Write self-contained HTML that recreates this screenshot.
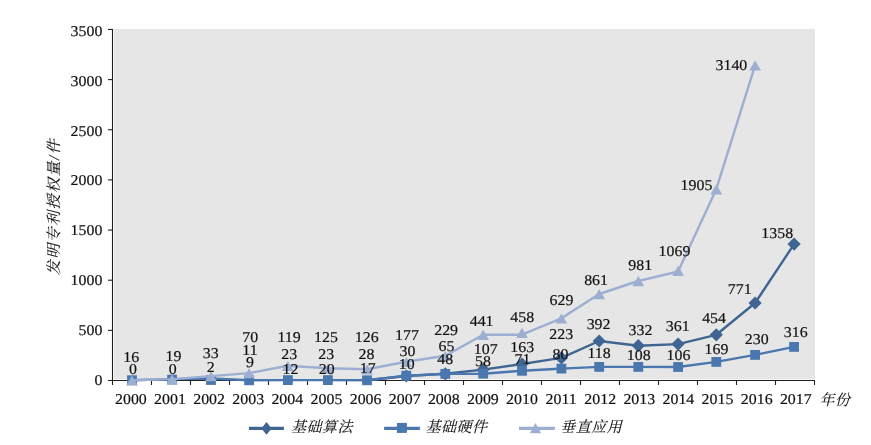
<!DOCTYPE html>
<html><head><meta charset="utf-8"><title>chart</title>
<style>
html,body{margin:0;padding:0;background:#fff;}
body{width:871px;height:445px;overflow:hidden;}
svg{display:block;}
text{font-family:"Liberation Serif",serif;font-size:15px;fill:#111011;text-rendering:geometricPrecision;stroke:#111011;stroke-width:0.18px;}
text.cjk{font-family:"Liberation Serif","Noto Serif CJK SC",serif;font-style:italic;stroke-width:0.1px;}
</style></head><body>
<svg width="871" height="445" viewBox="0 0 871 445">
<rect x="0" y="0" width="871" height="445" fill="#fff"/>
<g opacity="0.999">
<rect x="114" y="29" width="701.0" height="350.3" fill="#e6e6e6"/>
<g stroke="#231f20" stroke-width="1.1" fill="none">
<path d="M112.5 28.9 V385.0"/>
<path d="M108.0 380.5 H815.0"/>
<path d="M108.0 330.35 H112.5"/>
<path d="M108.0 280.20 H112.5"/>
<path d="M108.0 230.05 H112.5"/>
<path d="M108.0 179.90 H112.5"/>
<path d="M108.0 129.75 H112.5"/>
<path d="M108.0 79.60 H112.5"/>
<path d="M108.0 29.45 H112.5"/>
<path d="M151.5 380.5 V385.0"/>
<path d="M190.5 380.5 V385.0"/>
<path d="M229.5 380.5 V385.0"/>
<path d="M268.5 380.5 V385.0"/>
<path d="M307.5 380.5 V385.0"/>
<path d="M346.5 380.5 V385.0"/>
<path d="M385.5 380.5 V385.0"/>
<path d="M424.5 380.5 V385.0"/>
<path d="M463.5 380.5 V385.0"/>
<path d="M502.5 380.5 V385.0"/>
<path d="M541.5 380.5 V385.0"/>
<path d="M580.5 380.5 V385.0"/>
<path d="M619.5 380.5 V385.0"/>
<path d="M658.5 380.5 V385.0"/>
<path d="M697.5 380.5 V385.0"/>
<path d="M736.5 380.5 V385.0"/>
<path d="M775.5 380.5 V385.0"/>
<path d="M814.5 380.5 V385.0"/>
</g>
<text transform="translate(102.4 384.6) scale(1.060 1)" text-anchor="end">0</text>
<text transform="translate(102.4 334.8) scale(1.060 1)" text-anchor="end">500</text>
<text transform="translate(102.4 285.0) scale(1.060 1)" text-anchor="end">1000</text>
<text transform="translate(102.4 235.2) scale(1.060 1)" text-anchor="end">1500</text>
<text transform="translate(102.4 185.4) scale(1.060 1)" text-anchor="end">2000</text>
<text transform="translate(102.4 135.6) scale(1.060 1)" text-anchor="end">2500</text>
<text transform="translate(102.4 85.8) scale(1.060 1)" text-anchor="end">3000</text>
<text transform="translate(102.4 36.0) scale(1.060 1)" text-anchor="end">3500</text>
<text transform="translate(130.9 403.6) scale(1.060 1)" text-anchor="middle">2000</text>
<text transform="translate(170.0 403.6) scale(1.060 1)" text-anchor="middle">2001</text>
<text transform="translate(209.1 403.6) scale(1.060 1)" text-anchor="middle">2002</text>
<text transform="translate(248.2 403.6) scale(1.060 1)" text-anchor="middle">2003</text>
<text transform="translate(287.3 403.6) scale(1.060 1)" text-anchor="middle">2004</text>
<text transform="translate(326.5 403.6) scale(1.060 1)" text-anchor="middle">2005</text>
<text transform="translate(365.6 403.6) scale(1.060 1)" text-anchor="middle">2006</text>
<text transform="translate(404.7 403.6) scale(1.060 1)" text-anchor="middle">2007</text>
<text transform="translate(443.8 403.6) scale(1.060 1)" text-anchor="middle">2008</text>
<text transform="translate(482.9 403.6) scale(1.060 1)" text-anchor="middle">2009</text>
<text transform="translate(522.0 403.6) scale(1.060 1)" text-anchor="middle">2010</text>
<text transform="translate(561.1 403.6) scale(1.060 1)" text-anchor="middle">2011</text>
<text transform="translate(600.2 403.6) scale(1.060 1)" text-anchor="middle">2012</text>
<text transform="translate(639.3 403.6) scale(1.060 1)" text-anchor="middle">2013</text>
<text transform="translate(678.4 403.6) scale(1.060 1)" text-anchor="middle">2014</text>
<text transform="translate(717.5 403.6) scale(1.060 1)" text-anchor="middle">2015</text>
<text transform="translate(756.7 403.6) scale(1.060 1)" text-anchor="middle">2016</text>
<text transform="translate(795.8 403.6) scale(1.060 1)" text-anchor="middle">2017</text>
<polyline points="367.0,380.3 406.3,376.0 445.3,373.8 483.2,369.6 522.0,364.0 561.4,357.9 599.2,341.0 638.3,345.7 678.1,344.1 716.3,334.8 755.1,303.0 794.1,244.1" fill="none" stroke="#3f6592" stroke-width="2.4" stroke-linejoin="round"/>
<path d="M406.3 369.4 l6.6 6.6 l-6.6 6.6 l-6.6 -6.6z" fill="#3f6592"/>
<path d="M445.3 367.2 l6.6 6.6 l-6.6 6.6 l-6.6 -6.6z" fill="#3f6592"/>
<path d="M483.2 363.0 l6.6 6.6 l-6.6 6.6 l-6.6 -6.6z" fill="#3f6592"/>
<path d="M522.0 357.4 l6.6 6.6 l-6.6 6.6 l-6.6 -6.6z" fill="#3f6592"/>
<path d="M561.4 351.3 l6.6 6.6 l-6.6 6.6 l-6.6 -6.6z" fill="#3f6592"/>
<path d="M599.2 334.4 l6.6 6.6 l-6.6 6.6 l-6.6 -6.6z" fill="#3f6592"/>
<path d="M638.3 339.1 l6.6 6.6 l-6.6 6.6 l-6.6 -6.6z" fill="#3f6592"/>
<path d="M678.1 337.5 l6.6 6.6 l-6.6 6.6 l-6.6 -6.6z" fill="#3f6592"/>
<path d="M716.3 328.2 l6.6 6.6 l-6.6 6.6 l-6.6 -6.6z" fill="#3f6592"/>
<path d="M755.1 296.4 l6.6 6.6 l-6.6 6.6 l-6.6 -6.6z" fill="#3f6592"/>
<path d="M794.1 237.5 l6.6 6.6 l-6.6 6.6 l-6.6 -6.6z" fill="#3f6592"/>
<polyline points="132.0,380.2 172.1,379.1 211.0,378.5 249.1,380.3 287.9,380.1 327.9,380.1 367.0,380.3 406.3,375.7 445.3,373.9 483.2,373.7 522.0,370.8 561.4,368.6 599.2,366.9 638.3,366.9 678.1,367.0 716.3,361.9 755.1,354.9 794.1,346.9" fill="none" stroke="#4a77ad" stroke-width="2.4" stroke-linejoin="round"/>
<rect x="127.1" y="375.3" width="9.8" height="9.8" fill="#4a77ad"/>
<rect x="167.2" y="374.7" width="9.8" height="9.8" fill="#4a77ad"/>
<rect x="206.1" y="375.1" width="9.8" height="9.8" fill="#4a77ad"/>
<rect x="244.2" y="375.4" width="9.8" height="9.8" fill="#4a77ad"/>
<rect x="283.0" y="375.2" width="9.8" height="9.8" fill="#4a77ad"/>
<rect x="323.0" y="375.2" width="9.8" height="9.8" fill="#4a77ad"/>
<rect x="362.1" y="375.4" width="9.8" height="9.8" fill="#4a77ad"/>
<rect x="401.4" y="370.8" width="9.8" height="9.8" fill="#4a77ad"/>
<rect x="440.4" y="369.0" width="9.8" height="9.8" fill="#4a77ad"/>
<rect x="478.3" y="368.8" width="9.8" height="9.8" fill="#4a77ad"/>
<rect x="517.1" y="365.9" width="9.8" height="9.8" fill="#4a77ad"/>
<rect x="556.5" y="363.7" width="9.8" height="9.8" fill="#4a77ad"/>
<rect x="594.3" y="362.0" width="9.8" height="9.8" fill="#4a77ad"/>
<rect x="633.4" y="362.0" width="9.8" height="9.8" fill="#4a77ad"/>
<rect x="673.2" y="362.1" width="9.8" height="9.8" fill="#4a77ad"/>
<rect x="711.4" y="357.0" width="9.8" height="9.8" fill="#4a77ad"/>
<rect x="750.2" y="350.0" width="9.8" height="9.8" fill="#4a77ad"/>
<rect x="789.2" y="342.0" width="9.8" height="9.8" fill="#4a77ad"/>
<polyline points="132.0,380.3 172.1,379.1 211.0,376.1 249.1,373.1 287.9,365.8 327.9,368.3 367.0,369.3 406.3,361.8 445.3,355.8 483.2,334.7 522.0,334.7 561.4,318.3 599.2,294.0 638.3,281.0 678.1,271.5 716.3,189.2 755.1,65.4" fill="none" stroke="#9cafd1" stroke-width="2.4" stroke-linejoin="round"/>
<path d="M132.0 375.4 l5.9 10.1 h-11.8z" fill="#9cafd1"/>
<path d="M172.1 374.2 l5.9 10.1 h-11.8z" fill="#9cafd1"/>
<path d="M211.0 371.2 l5.9 10.1 h-11.8z" fill="#9cafd1"/>
<path d="M249.1 368.2 l5.9 10.1 h-11.8z" fill="#9cafd1"/>
<path d="M287.9 360.9 l5.9 10.1 h-11.8z" fill="#9cafd1"/>
<path d="M327.9 363.4 l5.9 10.1 h-11.8z" fill="#9cafd1"/>
<path d="M367.0 364.4 l5.9 10.1 h-11.8z" fill="#9cafd1"/>
<path d="M406.3 356.9 l5.9 10.1 h-11.8z" fill="#9cafd1"/>
<path d="M445.3 350.9 l5.9 10.1 h-11.8z" fill="#9cafd1"/>
<path d="M483.2 329.8 l5.9 10.1 h-11.8z" fill="#9cafd1"/>
<path d="M522.0 327.8 l5.9 10.1 h-11.8z" fill="#9cafd1"/>
<path d="M561.4 313.4 l5.9 10.1 h-11.8z" fill="#9cafd1"/>
<path d="M599.2 289.1 l5.9 10.1 h-11.8z" fill="#9cafd1"/>
<path d="M638.3 276.1 l5.9 10.1 h-11.8z" fill="#9cafd1"/>
<path d="M678.1 265.8 l5.9 10.1 h-11.8z" fill="#9cafd1"/>
<path d="M716.3 184.3 l5.9 10.1 h-11.8z" fill="#9cafd1"/>
<path d="M755.1 60.5 l5.9 10.1 h-11.8z" fill="#9cafd1"/>
<text transform="translate(131.2 362.3) scale(1.060 1)" text-anchor="middle">16</text>
<text transform="translate(132.9 374.3) scale(1.060 1)" text-anchor="middle">0</text>
<text transform="translate(173.5 360.5) scale(1.060 1)" text-anchor="middle">19</text>
<text transform="translate(172.8 374.3) scale(1.060 1)" text-anchor="middle">0</text>
<text transform="translate(210.7 358.1) scale(1.060 1)" text-anchor="middle">33</text>
<text transform="translate(210.7 372.2) scale(1.060 1)" text-anchor="middle">2</text>
<text transform="translate(250.2 342.2) scale(1.060 1)" text-anchor="middle">70</text>
<text transform="translate(250.0 354.6) scale(1.060 1)" text-anchor="middle">11</text>
<text transform="translate(249.9 367.4) scale(1.060 1)" text-anchor="middle">9</text>
<text transform="translate(289.1 341.8) scale(1.060 1)" text-anchor="middle">119</text>
<text transform="translate(289.2 358.8) scale(1.060 1)" text-anchor="middle">23</text>
<text transform="translate(290.5 373.9) scale(1.060 1)" text-anchor="middle">12</text>
<text transform="translate(326.0 341.8) scale(1.060 1)" text-anchor="middle">125</text>
<text transform="translate(326.2 358.8) scale(1.060 1)" text-anchor="middle">23</text>
<text transform="translate(326.8 373.9) scale(1.060 1)" text-anchor="middle">20</text>
<text transform="translate(366.7 341.5) scale(1.060 1)" text-anchor="middle">126</text>
<text transform="translate(366.4 358.8) scale(1.060 1)" text-anchor="middle">28</text>
<text transform="translate(367.8 373.2) scale(1.060 1)" text-anchor="middle">17</text>
<text transform="translate(407.0 339.5) scale(1.060 1)" text-anchor="middle">177</text>
<text transform="translate(407.5 356.4) scale(1.060 1)" text-anchor="middle">30</text>
<text transform="translate(406.7 369.4) scale(1.060 1)" text-anchor="middle">10</text>
<text transform="translate(446.1 334.6) scale(1.060 1)" text-anchor="middle">229</text>
<text transform="translate(446.5 351.2) scale(1.060 1)" text-anchor="middle">65</text>
<text transform="translate(445.2 364.0) scale(1.060 1)" text-anchor="middle">48</text>
<text transform="translate(481.6 326.2) scale(1.060 1)" text-anchor="middle">441</text>
<text transform="translate(485.7 354.1) scale(1.060 1)" text-anchor="middle">107</text>
<text transform="translate(483.0 366.3) scale(1.060 1)" text-anchor="middle">58</text>
<text transform="translate(522.2 322.0) scale(1.060 1)" text-anchor="middle">458</text>
<text transform="translate(522.2 351.6) scale(1.060 1)" text-anchor="middle">163</text>
<text transform="translate(522.5 364.0) scale(1.060 1)" text-anchor="middle">71</text>
<text transform="translate(561.4 304.8) scale(1.060 1)" text-anchor="middle">629</text>
<text transform="translate(561.2 339.2) scale(1.060 1)" text-anchor="middle">223</text>
<text transform="translate(560.5 359.2) scale(1.060 1)" text-anchor="middle">80</text>
<text transform="translate(596.1 284.7) scale(1.060 1)" text-anchor="middle">861</text>
<text transform="translate(598.6 328.7) scale(1.060 1)" text-anchor="middle">392</text>
<text transform="translate(599.1 358.2) scale(1.060 1)" text-anchor="middle">118</text>
<text transform="translate(640.2 270.3) scale(1.060 1)" text-anchor="middle">981</text>
<text transform="translate(640.4 335.0) scale(1.060 1)" text-anchor="middle">332</text>
<text transform="translate(638.7 359.6) scale(1.060 1)" text-anchor="middle">108</text>
<text transform="translate(674.5 256.4) scale(1.060 1)" text-anchor="middle">1069</text>
<text transform="translate(677.7 331.4) scale(1.060 1)" text-anchor="middle">361</text>
<text transform="translate(678.5 359.6) scale(1.060 1)" text-anchor="middle">106</text>
<text transform="translate(696.5 189.7) scale(1.060 1)" text-anchor="middle">1905</text>
<text transform="translate(714.1 322.5) scale(1.060 1)" text-anchor="middle">454</text>
<text transform="translate(716.5 353.6) scale(1.060 1)" text-anchor="middle">169</text>
<text transform="translate(731.4 70.4) scale(1.060 1)" text-anchor="middle">3140</text>
<text transform="translate(739.7 293.8) scale(1.060 1)" text-anchor="middle">771</text>
<text transform="translate(756.8 343.7) scale(1.060 1)" text-anchor="middle">230</text>
<text transform="translate(777.2 237.7) scale(1.060 1)" text-anchor="middle">1358</text>
<text transform="translate(795.8 337.4) scale(1.060 1)" text-anchor="middle">316</text>
<text class="cjk" transform="translate(59.3 275.3) rotate(-90)" x="0" y="0" font-size="14.6" textLength="136" lengthAdjust="spacing">发明专利授权量/件</text>
<text class="cjk" x="819.5" y="404.5" font-size="15" textLength="30.5" lengthAdjust="spacing">年份</text>
<path d="M249 428.4 H283.9" stroke="#3f6592" stroke-width="3.1"/>
<path d="M266.5 422.0 l5.1 6.4 l-5.1 6.4 l-5.1 -6.4z" fill="#3f6592"/>
<text class="cjk" x="291.0" y="431.9" font-size="15" textLength="61.5" lengthAdjust="spacing">基础算法</text>
<path d="M384.1 428.4 H419.9" stroke="#4a77ad" stroke-width="3.1"/>
<rect x="396.9" y="422.9" width="10" height="10" fill="#4a77ad"/>
<text class="cjk" x="425.6" y="431.9" font-size="15" textLength="61.5" lengthAdjust="spacing">基础硬件</text>
<path d="M519 428.4 H554.9" stroke="#9cafd1" stroke-width="3.1"/>
<path d="M535.5 422.9 l5.65 10.3 h-11.3z" fill="#9cafd1"/>
<text class="cjk" x="560.2" y="431.9" font-size="15" textLength="61.5" lengthAdjust="spacing">垂直应用</text>
</g>
</svg>
</body></html>
